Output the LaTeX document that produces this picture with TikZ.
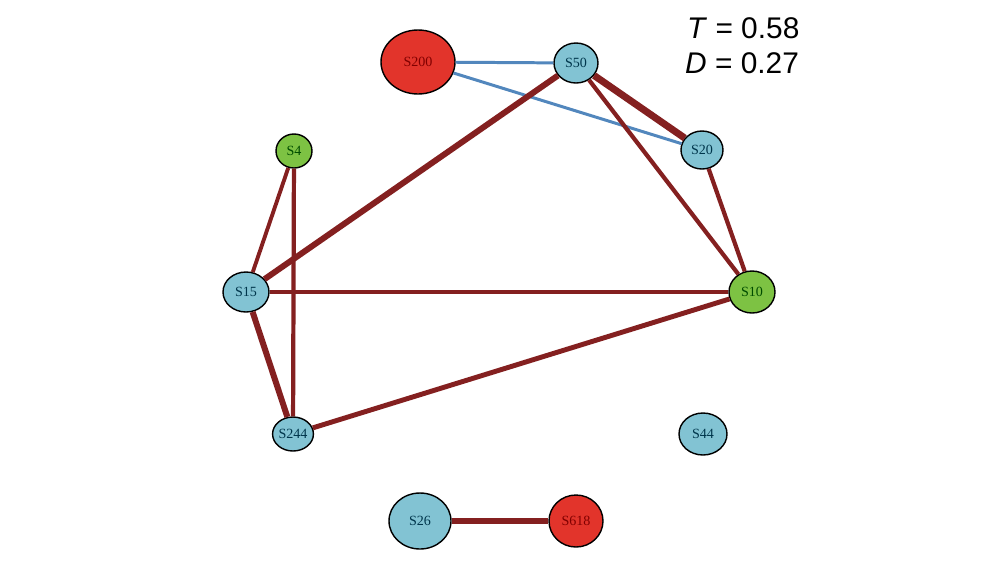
\documentclass[tikz,border=0pt]{standalone}
\usepackage{fontspec}
\setmainfont{Liberation Sans}
\newfontfamily\labelfont{Liberation Serif}
\usetikzlibrary{shapes.geometric}
\definecolor{nodeblue}{HTML}{82C3D3}
\definecolor{nodegreen}{HTML}{7DC243}
\definecolor{nodered}{HTML}{E2342B}
\definecolor{linkred}{HTML}{842020}
\definecolor{linkblue}{HTML}{5287BD}
\tikzset{
  sp/.style={ellipse,draw=black,line width=0.8pt,inner sep=0pt,
    font=\labelfont\fontsize{8}{9}\selectfont},
  spblue/.style={sp,fill=nodeblue,text=blue!30!cyan!30!black},
  spgreen/.style={sp,fill=nodegreen,text=green!30!black},
  spred/.style={sp,fill=nodered,text=red!50!black},
  pos/.style={linkred,line width=#1},
  neg/.style={linkblue,line width=1.7pt}
}

\begin{document}
\begin{tikzpicture}[x=0.02cm,y=-0.02cm]
      \useasboundingbox (0,0) rectangle (1000,579);
      \node[spred,minimum width=74*0.02cm,minimum height=64*0.02cm] at (418,62) (s200) {S200};
      \node[spblue,minimum width=44*0.02cm,minimum height=40*0.02cm] at (576,63) (s50) {S50};
      \node[spblue,minimum width=42*0.02cm,minimum height=38*0.02cm] at (702,150) (s20) {S20};
      \node[spgreen,minimum width=36*0.02cm,minimum height=34*0.02cm] at (294,151) (s4) {S4};
      \node[spblue,minimum width=46*0.02cm,minimum height=40*0.02cm] at (246,292) (s15) {S15};
      \node[spgreen,minimum width=46*0.02cm,minimum height=42*0.02cm] at (752,292) (s10) {S10};
      \node[spblue,minimum width=38*0.02cm,minimum height=34*0.02cm] at (293,434) (s244) {S244};
      \node[spblue,minimum width=48*0.02cm,minimum height=42*0.02cm] at (703,434) (s44) {S44};
      \node[spblue,minimum width=62*0.02cm,minimum height=56*0.02cm] at (420,521) (s26) {S26};
      \node[spred,minimum width=54*0.02cm,minimum height=52*0.02cm] at (576,521) (s618) {S618};
      % links
      \draw[neg] (s200)--(s50);
      \draw[neg] (s200)--(s20);
      \draw[pos=3.4pt] (s50)--(s15);
      \draw[pos=4pt] (s50)--(s20);
      \draw[pos=2.4pt] (s50)--(s10);
      \draw[pos=2.4pt] (s20)--(s10);
      \draw[pos=2.2pt] (s4)--(s15);
      \draw[pos=2.4pt] (s4)--(s244);
      \draw[pos=2.8pt] (s15)--(s10);
      \draw[pos=3.4pt] (s15)--(s244);
      \draw[pos=2.8pt] (s244)--(s10);
      \draw[pos=3pt] (s26)--(s618);
      \node[anchor=base west,font=\fontsize{17}{20}\selectfont] at (681,38) (t) {\textit{T} = 0.58};
      \node[anchor=base west,font=\fontsize{17}{20}\selectfont] at (679,73) (d) {\textit{D} = 0.27};
      \end{tikzpicture}
\end{document}
